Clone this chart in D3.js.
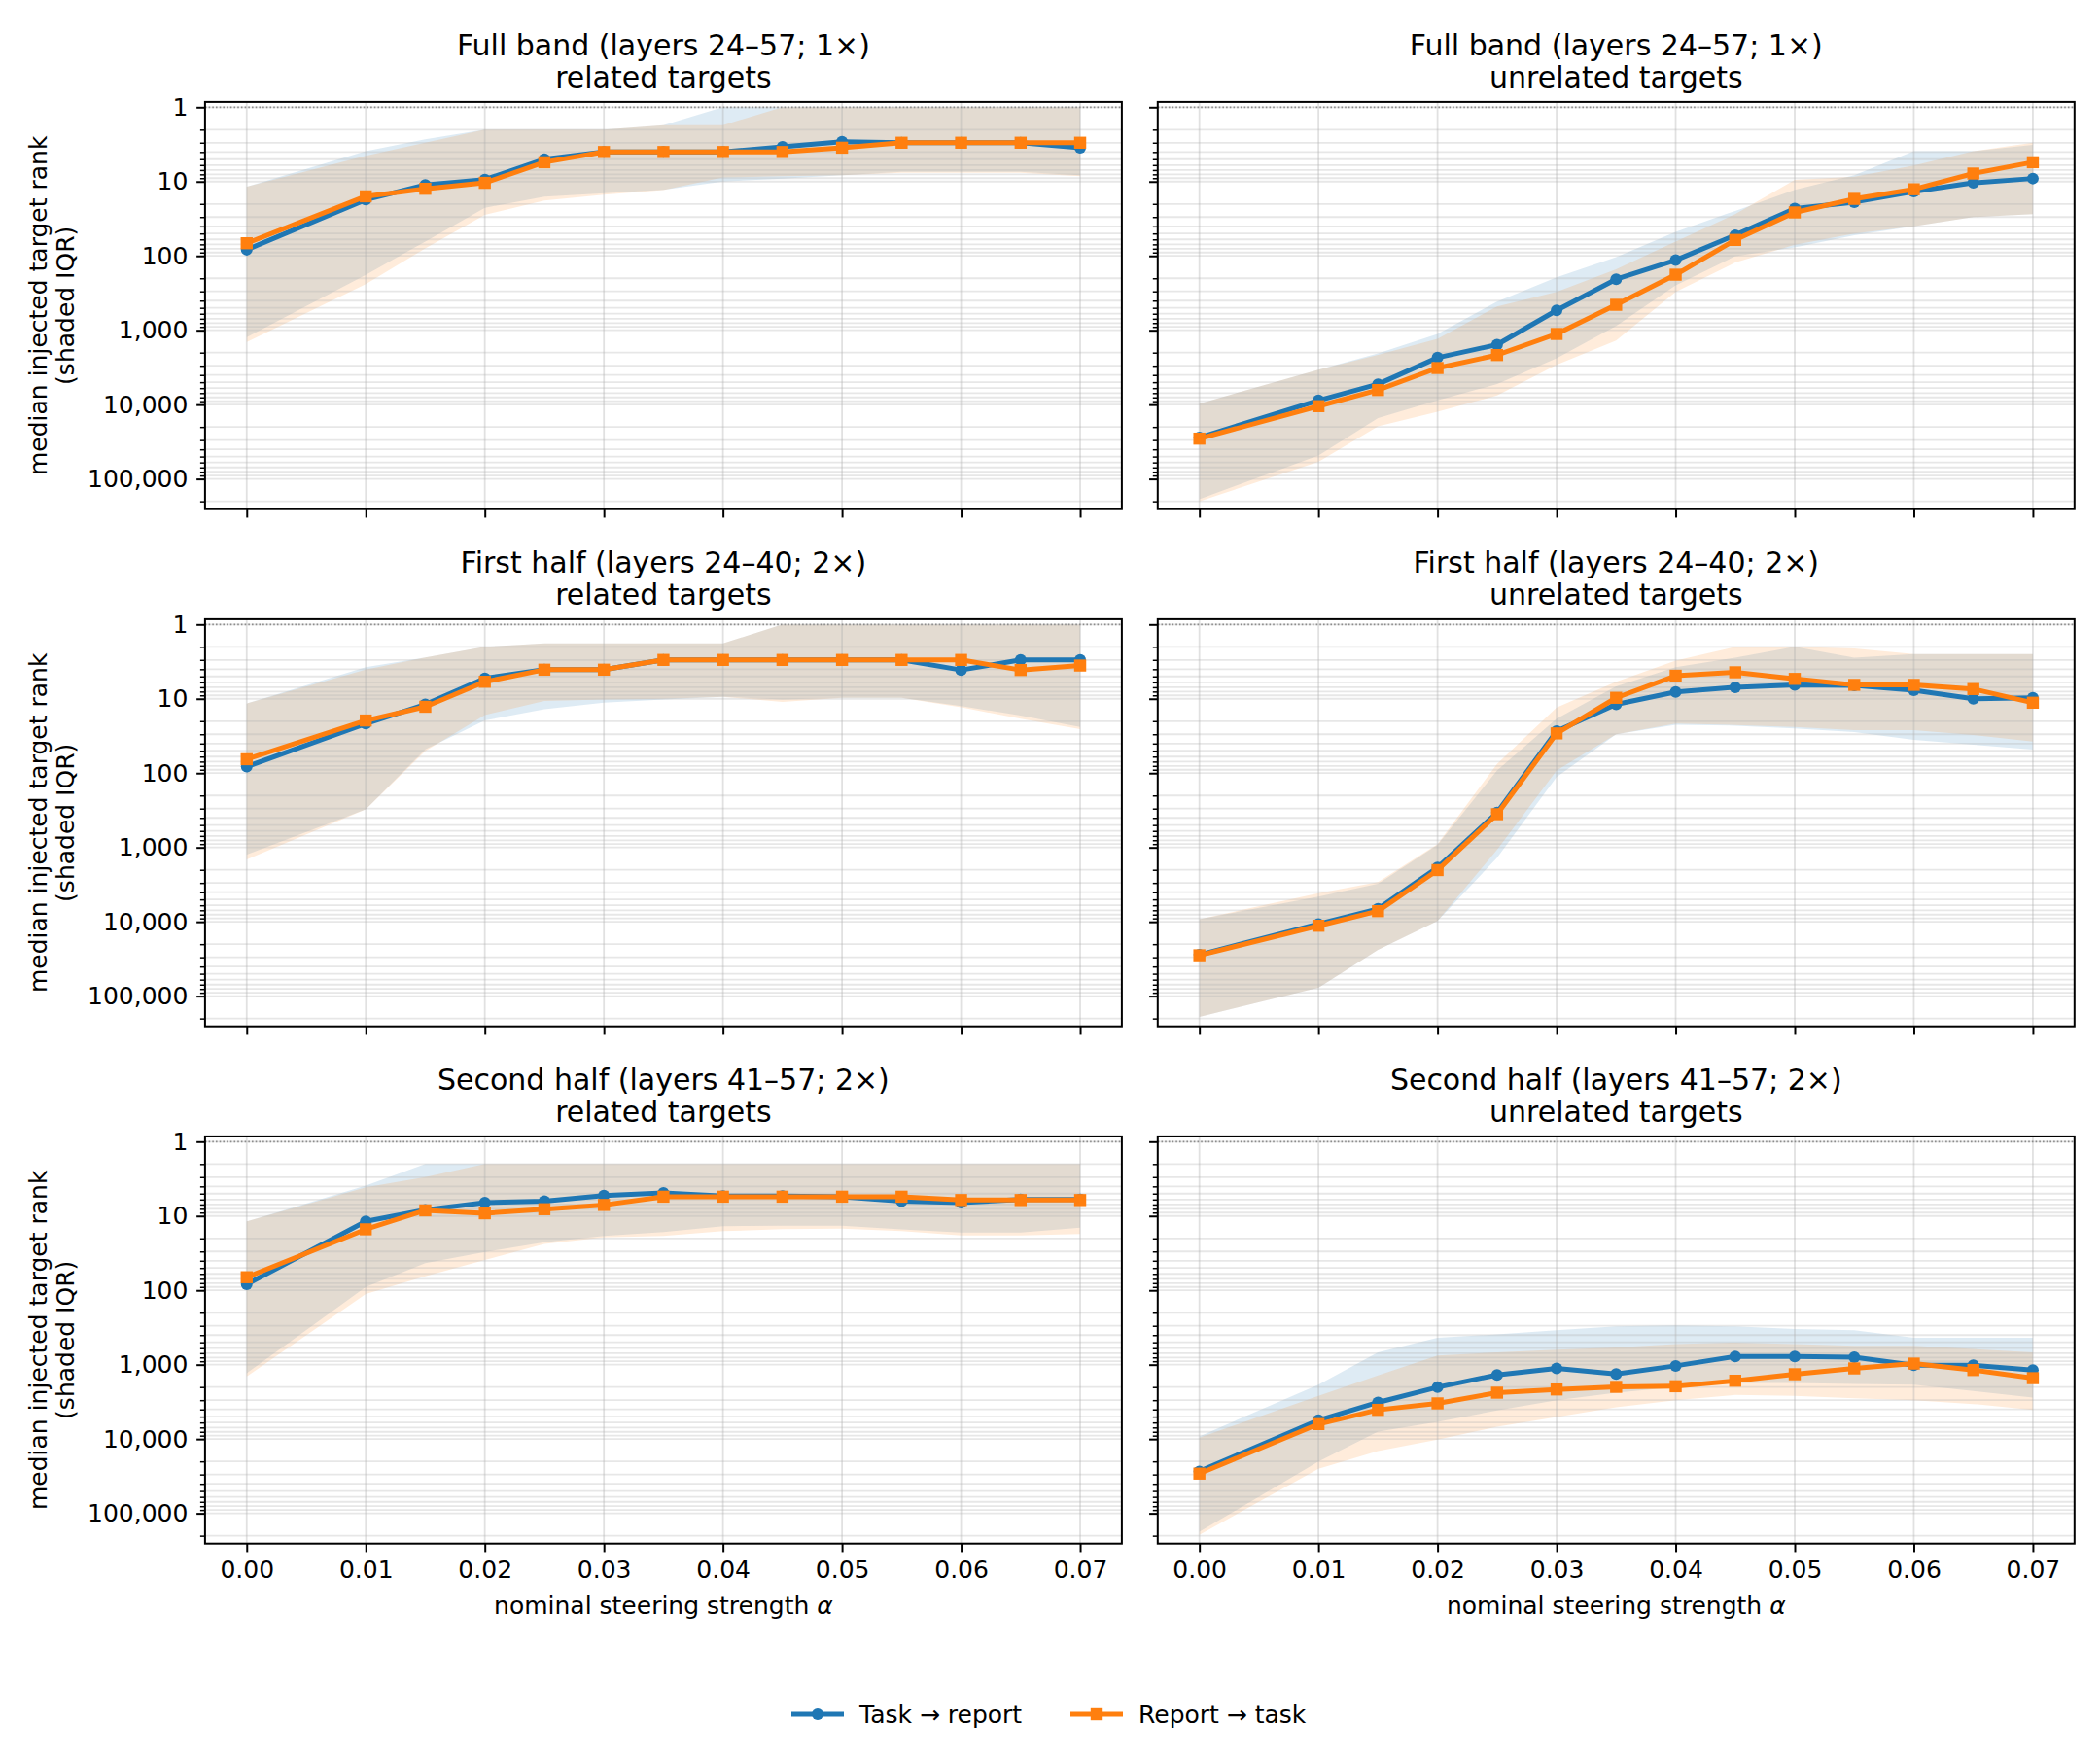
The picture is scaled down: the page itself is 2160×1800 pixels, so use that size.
<!DOCTYPE html>
<html><head><meta charset="utf-8">
<script src="https://cdn.jsdelivr.net/npm/d3@7"></script>
<style>
body{margin:0;background:#fff}
svg{display:block}
text{font-family:"DejaVu Sans",sans-serif;fill:#000}
</style>
</head><body>
<svg id="chart" width="2160" height="1800"></svg>
<script>
// ---------------- data ----------------
const alphas = [0, 0.01, 0.015, 0.02, 0.025, 0.03, 0.035, 0.04, 0.045, 0.05, 0.055, 0.06, 0.065, 0.07];
const xTicks = [0, 0.01, 0.02, 0.03, 0.04, 0.05, 0.06, 0.07];
const yTicks = [1, 10, 100, 1000, 10000, 100000];
const seriesNames = ["Task → report", "Report → task"];

// Full band, related
const fullRelTaskMed = [82.6, 17.5, 11.1, 9.4, 5.0, 4.0, 4.0, 4.0, 3.4, 2.9, 3.0, 3.0, 3.0, 3.5];
const fullRelTaskQ1  = [11.7, 3.9, 2.7, 2.0, 2.0, 2.0, 1.74, 1.0, 1.0, 1.0, 1.0, 1.0, 1.0, 1.0];
const fullRelTaskQ3  = [1240, 180, 64, 22.5, 16, 14.3, 12.9, 10, 9.1, 8.2, 7.4, 7.4, 7.4, 8.2];
const fullRelRepMed  = [67.6, 15.8, 12.5, 10.4, 5.5, 4.0, 4.0, 4.0, 4.0, 3.5, 3.0, 3.0, 3.0, 3.0];
const fullRelRepQ1   = [11.7, 4.5, 3.0, 2.0, 2.0, 2.0, 1.74, 1.74, 1.0, 1.0, 1.0, 1.0, 1.0, 1.0];
const fullRelRepQ3   = [1443, 240, 79, 28, 18, 15, 13, 8.8, 8.5, 8.2, 7.6, 7.6, 7.6, 8.5];

// Full band, unrelated
const fullUnrTaskMed = [27800, 8770, 5310, 2336, 1563, 540, 206, 114, 52.6, 23.1, 18.9, 13.6, 10.4, 9.1];
const fullUnrTaskQ1  = [9700, 3380, 2050, 1122, 411, 194, 104, 47.6, 24.8, 12.9, 8.2, 3.9, 3.9, 3.2];
const fullUnrTaskQ3  = [187000, 48300, 15200, 8770, 5300, 2380, 873, 249, 101, 77, 52.6, 40, 30, 27.4];
const fullUnrRepMed  = [28700, 10500, 6370, 3220, 2155, 1122, 455, 179, 61, 26, 17.1, 12.7, 7.8, 5.5];
const fullUnrRepQ1   = [9700, 3380, 2150, 1300, 478, 305, 151, 64, 27.4, 9.5, 8.6, 6.1, 3.9, 3.0];
const fullUnrRepQ3   = [200000, 59000, 19600, 12470, 7550, 2910, 1372, 305, 123, 71, 50, 40, 30, 27.4];

// First half, related
const firstRelTaskMed = [81.9, 21.6, 11.9, 5.3, 4.06, 4.06, 3.0, 3.0, 3.0, 3.0, 3.0, 4.1, 3.0, 3.0];
const firstRelTaskQ1  = [11.6, 3.75, 2.78, 2.0, 1.8, 1.8, 1.8, 1.8, 1.0, 1.0, 1.0, 1.0, 1.0, 1.0];
const firstRelTaskQ3  = [1247, 307, 48, 19.6, 13.8, 11.3, 10.2, 9.4, 10.2, 9.7, 9.7, 12.5, 16.8, 23.9];
const firstRelRepMed  = [65, 19.6, 12.8, 5.9, 4.06, 4.06, 3.0, 3.0, 3.0, 3.0, 3.0, 3.0, 4.1, 3.57];
const firstRelRepQ1   = [11.6, 4.06, 2.78, 2.0, 1.8, 1.8, 1.8, 1.8, 1.0, 1.0, 1.0, 1.0, 1.0, 1.0];
const firstRelRepQ3   = [1449, 307, 50.6, 16.5, 10.7, 10.2, 10, 9.4, 11, 9.7, 9.7, 13, 18.6, 25.6];

// First half, unrelated
const firstUnrTaskMed = [27800, 10700, 6700, 1860, 339, 27.2, 11.9, 8.1, 7.0, 6.5, 6.6, 7.7, 10, 9.7];
const firstUnrTaskQ1  = [9230, 4580, 3070, 923, 92, 18.6, 6.8, 3.75, 2.8, 2.0, 2.8, 2.5, 2.5, 2.5];
const firstUnrTaskQ3  = [190000, 77000, 23800, 9700, 1378, 113, 30, 22.3, 23, 25, 28, 35.7, 41.4, 48.2];
const firstUnrRepMed  = [28200, 11300, 7190, 2015, 357, 29.2, 9.7, 4.9, 4.4, 5.4, 6.5, 6.5, 7.4, 11.3];
const firstUnrRepQ1   = [9230, 4140, 2920, 900, 75, 13.1, 5.9, 3.07, 2.0, 2.0, 2.1, 2.5, 2.5, 2.5];
const firstUnrRepQ3   = [190000, 77000, 23800, 9700, 1072, 92, 30, 21.6, 22.5, 24, 26.4, 26.4, 30.7, 37.5];

// Second half, related
const secondRelTaskMed = [83, 11.8, 8.3, 6.6, 6.3, 5.3, 4.9, 5.4, 5.4, 5.5, 6.3, 6.6, 6.0, 6.0];
const secondRelTaskQ1  = [11.8, 3.9, 2.0, 2.0, 2.0, 2.0, 2.0, 2.0, 2.0, 2.0, 2.0, 2.0, 2.0, 2.0];
const secondRelTaskQ3  = [1305, 90, 43, 30.5, 22.6, 18.5, 16.4, 13.7, 13.5, 13.5, 15.1, 16.7, 16.7, 14.4];
const secondRelRepMed  = [66.6, 15.1, 8.4, 9.2, 8.1, 7.1, 5.5, 5.5, 5.5, 5.5, 5.5, 6.1, 6.1, 6.1];
const secondRelRepQ1   = [11.8, 4.1, 3.0, 2.0, 2.0, 2.0, 2.0, 2.0, 2.0, 2.0, 2.0, 2.0, 2.0, 2.0];
const secondRelRepQ3   = [1443, 112, 64.6, 39, 23.7, 19.4, 18.5, 16, 15.0, 14.8, 16, 18.3, 18.3, 17.5];

// Second half, unrelated
const secondUnrTaskMed = [27200, 5580, 3215, 2010, 1372, 1123, 1330, 1037, 775, 775, 791, 1016, 1016, 1181];
const secondUnrTaskQ1  = [9200, 1855, 681, 434, 392, 344, 305, 296, 305, 331, 344, 434, 434, 434];
const secondUnrTaskQ3  = [177000, 20100, 7930, 5870, 4130, 3000, 2380, 2010, 1763, 1763, 1817, 1855, 2265, 2770];
const secondUnrRepMed  = [29200, 6300, 4050, 3315, 2380, 2155, 1987, 1950, 1644, 1344, 1123, 967, 1181, 1518];
const secondUnrRepQ1   = [9600, 2630, 1400, 752, 680, 628, 586, 530, 504, 530, 557, 557, 615, 680];
const secondUnrRepQ3   = [195000, 25100, 14500, 10200, 6820, 5050, 3740, 3000, 2555, 2630, 2825, 3000, 3380, 4050];

const titleLine1 = ["Full band (layers 24–57; 1×)", "First half (layers 24–40; 2×)", "Second half (layers 41–57; 2×)"];
const titleLine2 = ["related targets", "unrelated targets"];

// table built from the arrays above
const panels = [
  {row:0,col:0,task:[fullRelTaskMed,fullRelTaskQ1,fullRelTaskQ3],rep:[fullRelRepMed,fullRelRepQ1,fullRelRepQ3]},
  {row:0,col:1,task:[fullUnrTaskMed,fullUnrTaskQ1,fullUnrTaskQ3],rep:[fullUnrRepMed,fullUnrRepQ1,fullUnrRepQ3]},
  {row:1,col:0,task:[firstRelTaskMed,firstRelTaskQ1,firstRelTaskQ3],rep:[firstRelRepMed,firstRelRepQ1,firstRelRepQ3]},
  {row:1,col:1,task:[firstUnrTaskMed,firstUnrTaskQ1,firstUnrTaskQ3],rep:[firstUnrRepMed,firstUnrRepQ1,firstUnrRepQ3]},
  {row:2,col:0,task:[secondRelTaskMed,secondRelTaskQ1,secondRelTaskQ3],rep:[secondRelRepMed,secondRelRepQ1,secondRelRepQ3]},
  {row:2,col:1,task:[secondUnrTaskMed,secondUnrTaskQ1,secondUnrTaskQ3],rep:[secondUnrRepMed,secondUnrRepQ1,secondUnrRepQ3]}
];

// ---------------- drawing ----------------
const BLUE = "#1f77b4", ORANGE = "#ff7f0e";
const W = 943, H = 418.8;
const colLeft = [210.9, 1190.8];
const rowTop = [104.9, 636.9, 1168.9];
const xDomain = [-0.0035, 0.0735];
const yDomain = [0.85, 2.55e5];
const FS = 25;

const minorY = [];
for (let k = 0; k <= 5; k++) for (let m = 2; m <= 9; m++) { const v = m * Math.pow(10, k); if (v < yDomain[1]) minorY.push(v); }

const svg = d3.select("#chart");
svg.append("rect").attr("width", 2160).attr("height", 1800).attr("fill", "#fff");
const defs = svg.append("defs");

panels.forEach((p, pi) => {
  const x0 = colLeft[p.col], y0 = rowTop[p.row];
  const x = d3.scaleLinear().domain(xDomain).range([x0, x0 + W]);
  const y = d3.scaleLog().domain(yDomain).range([y0, y0 + H]);
  const cid = "clip" + pi;
  defs.append("clipPath").attr("id", cid).append("rect").attr("x", x0).attr("y", y0).attr("width", W).attr("height", H);
  const g = svg.append("g");
  const plot = g.append("g").attr("clip-path", `url(#${cid})`);
  const series = [{d: p.task, color: BLUE, shape: "circle"}, {d: p.rep, color: ORANGE, shape: "square"}];
  const idx = d3.range(alphas.length);

  // IQR bands
  series.forEach(s => {
    const area = d3.area().x(j => x(alphas[j])).y0(j => y(s.d[1][j])).y1(j => y(s.d[2][j]));
    plot.append("path").datum(idx).attr("d", area).attr("fill", s.color).attr("fill-opacity", 0.15).attr("stroke", "none");
  });

  // grid
  const grid = plot.append("g").attr("stroke", "#b0b0b0").attr("stroke-width", 1.8);
  yTicks.concat(minorY).forEach(v => grid.append("line").attr("stroke-opacity", 0.3)
    .attr("x1", x0).attr("x2", x0 + W).attr("y1", y(v)).attr("y2", y(v)));
  xTicks.forEach(v => grid.append("line").attr("stroke-opacity", 0.38)
    .attr("x1", x(v)).attr("x2", x(v)).attr("y1", y0).attr("y2", y0 + H));

  // reference line at rank 1
  plot.append("line").attr("x1", x0).attr("x2", x0 + W).attr("y1", y(1)).attr("y2", y(1))
    .attr("stroke", "#8c8c8c").attr("stroke-width", 1.8).attr("stroke-dasharray", "1.6,2.1");

  // median lines and markers
  series.forEach(s => {
    const line = d3.line().x(j => x(alphas[j])).y(j => y(s.d[0][j]));
    plot.append("path").datum(idx).attr("d", line).attr("fill", "none").attr("stroke", s.color)
      .attr("stroke-width", 5).attr("stroke-linejoin", "round");
    idx.forEach(j => {
      if (s.shape === "circle") {
        plot.append("circle").attr("cx", x(alphas[j])).attr("cy", y(s.d[0][j])).attr("r", 6).attr("fill", s.color);
      } else {
        plot.append("rect").attr("x", x(alphas[j]) - 6.2).attr("y", y(s.d[0][j]) - 6.2).attr("width", 12.4).attr("height", 12.4).attr("fill", s.color);
      }
    });
  });

  // spines
  g.append("rect").attr("x", x0).attr("y", y0).attr("width", W).attr("height", H)
    .attr("fill", "none").attr("stroke", "#000").attr("stroke-width", 2);

  // axes
  const xa = g.append("g").attr("transform", `translate(0,${y0 + H})`)
    .call(d3.axisBottom(x).tickValues(xTicks).tickSize(8.75).tickPadding(8.75)
      .tickFormat(p.row === 2 ? d3.format(".2f") : () => ""));
  const ya = g.append("g").attr("transform", `translate(${x0},0)`)
    .call(d3.axisLeft(y).tickValues(yTicks).tickSize(8.75).tickPadding(8.75)
      .tickFormat(p.col === 0 ? d3.format(",") : () => ""));
  const yam = g.append("g").attr("transform", `translate(${x0},0)`)
    .call(d3.axisLeft(y).tickValues(minorY).tickSize(5).tickFormat(() => ""));
  [xa, ya, yam].forEach(a => {
    a.select(".domain").remove();
    a.selectAll("text").attr("font-size", FS).attr("font-family", "DejaVu Sans").attr("fill", "#000");
  });
  xa.selectAll("line").attr("stroke-width", 2);
  ya.selectAll("line").attr("stroke-width", 2);
  yam.selectAll("line").attr("stroke-width", 1.5);

  // titles
  const cx = x0 + W / 2;
  g.append("text").attr("x", cx).attr("y", y0 - 48.4).attr("text-anchor", "middle").attr("font-size", 30).text(titleLine1[p.row]);
  g.append("text").attr("x", cx).attr("y", y0 - 15).attr("text-anchor", "middle").attr("font-size", 30).text(titleLine2[p.col]);

  // y label
  if (p.col === 0) {
    const cy = y0 + H / 2;
    g.append("text").attr("transform", `translate(47.5,${cy}) rotate(-90)`).attr("text-anchor", "middle")
      .attr("font-size", FS).text("median injected target rank");
    g.append("text").attr("transform", `translate(75.5,${cy}) rotate(-90)`).attr("text-anchor", "middle")
      .attr("font-size", FS).text("(shaded IQR)");
  }
  // x label
  if (p.row === 2) {
    const t = g.append("text").attr("x", cx).attr("y", y0 + H + 72.5).attr("text-anchor", "middle").attr("font-size", FS);
    t.append("tspan").text("nominal steering strength ");
    t.append("tspan").attr("font-style", "italic").text("α");
  }
});

// legend
const legendY = 1763;
const legendX = [814, 1101];
seriesNames.forEach((name, i) => {
  const color = i === 0 ? BLUE : ORANGE;
  const lx = legendX[i];
  const lg = svg.append("g");
  lg.append("line").attr("x1", lx).attr("x2", lx + 54).attr("y1", legendY).attr("y2", legendY)
    .attr("stroke", color).attr("stroke-width", 5);
  if (i === 0) lg.append("circle").attr("cx", lx + 27).attr("cy", legendY).attr("r", 6).attr("fill", color);
  else lg.append("rect").attr("x", lx + 20.8).attr("y", legendY - 6.2).attr("width", 12.4).attr("height", 12.4).attr("fill", color);
  lg.append("text").attr("x", lx + 70).attr("y", legendY + 9).attr("font-size", FS).text(name);
});
</script>
</body></html>
